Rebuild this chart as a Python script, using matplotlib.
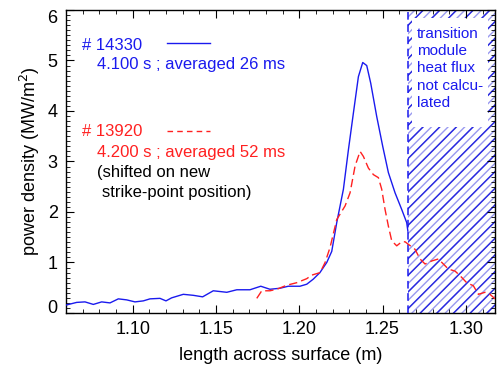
import matplotlib
matplotlib.use("Agg")
import matplotlib.pyplot as plt
from matplotlib.ticker import MultipleLocator
from matplotlib.patches import Rectangle

plt.rcParams['font.family'] = ['Liberation Sans', 'DejaVu Sans']
plt.rcParams['hatch.linewidth'] = 1.0

# Shot 14330 (blue, solid)
x_14330 = [1.0604, 1.0664, 1.0714, 1.0764, 1.0814, 1.0864, 1.0914, 1.0964, 1.1014, 1.1064,
           1.1104, 1.1164, 1.1200, 1.1234, 1.1304, 1.1364, 1.1420, 1.1484, 1.1565, 1.1625,
           1.1704, 1.1769, 1.1824, 1.1884, 1.1934, 1.2004, 1.2045, 1.2084, 1.2124, 1.2165,
           1.2195, 1.2225, 1.2265, 1.2295, 1.2325, 1.2355, 1.2381, 1.2405, 1.2429, 1.2465,
           1.2501, 1.2535, 1.2575, 1.2615, 1.2645, 1.2652]
y_14330 = [0.16, 0.21, 0.22, 0.17, 0.22, 0.20, 0.28, 0.26, 0.22, 0.24,
           0.28, 0.29, 0.24, 0.30, 0.37, 0.35, 0.32, 0.44, 0.41, 0.46,
           0.46, 0.53, 0.47, 0.49, 0.53, 0.53, 0.57, 0.67, 0.80, 1.00,
           1.22, 1.79, 2.45, 3.23, 3.96, 4.68, 4.96, 4.90, 4.55, 3.89,
           3.30, 2.78, 2.38, 2.05, 1.79, 1.62]

# Shot 13920 (red, dashed)
x_13920 = [1.1745, 1.1775, 1.1824, 1.1865, 1.1925, 1.1985, 1.2045, 1.2075, 1.2125, 1.2155,
           1.2185, 1.2225, 1.2275, 1.2305, 1.2335, 1.2365, 1.2385, 1.2415, 1.2445, 1.2475,
           1.2495, 1.2515, 1.2535, 1.2555, 1.2585, 1.2615, 1.2635, 1.2655, 1.2695, 1.2725,
           1.2755, 1.2795, 1.2835, 1.2865, 1.2895, 1.2935, 1.2965, 1.3005, 1.3045, 1.3075,
           1.3115, 1.3145, 1.3175]
y_13920 = [0.29, 0.44, 0.44, 0.47, 0.55, 0.60, 0.68, 0.75, 0.80, 1.00,
           1.30, 1.85, 2.12, 2.38, 2.91, 3.20, 3.10, 2.87, 2.74, 2.68,
           2.45, 2.05, 1.72, 1.43, 1.33, 1.41, 1.41, 1.36, 1.26, 1.07,
           0.97, 1.03, 1.07, 0.97, 0.87, 0.83, 0.74, 0.60, 0.54, 0.37,
           0.41, 0.37, 0.28]

x_cut = 1.265
xticks = [1.10, 1.15, 1.20, 1.25, 1.30]
xticklabels = ['1.10', '1.15', '1.20', '1.25', '1.30']
yticks = [0, 1, 2, 3, 4, 5, 6]
yticklabels = ['0', '1', '2', '3', '4', '5', '6']

BLUE = '#1a1aee'
RED = '#ff2020'

fig = plt.figure(figsize=(4.99, 3.74), dpi=100)
ax = fig.add_axes([0.1323, 0.1631, 0.8597, 0.8102])
ax.set_xlim(1.06, 1.3175)
ax.set_ylim(0, 6)

# hatched region (not calculated): light and dark alternating hatch lines
ax.axvspan(x_cut, 1.3175, facecolor='none', edgecolor='#9a9af0', hatch='////', linewidth=0, zorder=0)
ax.axvspan(x_cut, 1.3175, facecolor='none', edgecolor='#2a2ae0', hatch='//', linewidth=0, zorder=0.5)
ax.axvline(x_cut, color=BLUE, linestyle=(0, (5, 3)), linewidth=1.1, zorder=3)
ax.add_patch(Rectangle((0.8065, 0.615), 0.177, 0.3585, transform=ax.transAxes,
                       facecolor='white', edgecolor='none', zorder=1))
ax.text(0.818, 0.945, 'transition\nmodule\nheat flux\nnot calcu-\nlated', transform=ax.transAxes,
        color=BLUE, fontsize=11, va='top', ha='left', linespacing=1.3, zorder=2)

ax.plot(x_14330, y_14330, color=BLUE, linewidth=1.0, zorder=4)
ax.plot(x_13920, y_13920, color=RED, linewidth=1.0, linestyle=(0, (6, 3)), zorder=4)

# pseudo legend
ax.text(0.037, 0.882, '# 14330', transform=ax.transAxes, color=BLUE, fontsize=12, va='center')
ax.plot([0.235, 0.336], [0.891, 0.891], transform=ax.transAxes, color=BLUE, linewidth=1.0)
ax.text(0.072, 0.819, '4.100 s ; averaged 26 ms', transform=ax.transAxes, color=BLUE, fontsize=12, va='center')
ax.text(0.037, 0.599, '# 13920', transform=ax.transAxes, color=RED, fontsize=12, va='center')
ax.plot([0.235, 0.336], [0.602, 0.602], transform=ax.transAxes, color=RED, linewidth=1.0,
        linestyle=(0, (4, 3)))
ax.text(0.072, 0.530, '4.200 s ; averaged 52 ms', transform=ax.transAxes, color=RED, fontsize=12, va='center')
ax.text(0.072, 0.464, '(shifted on new', transform=ax.transAxes, color='black', fontsize=12, va='center')
ax.text(0.083, 0.398, 'strike-point position)', transform=ax.transAxes, color='black', fontsize=12, va='center')

ax.set_xticks(xticks)
ax.set_xticklabels(xticklabels)
ax.set_yticks(yticks)
ax.set_yticklabels(yticklabels)
ax.xaxis.set_minor_locator(MultipleLocator(0.01))
ax.yaxis.set_minor_locator(MultipleLocator(0.1))
ax.tick_params(which='both', direction='in', top=True, right=True, labelsize=13, pad=6)
ax.tick_params(which='major', length=6, width=0.8)
ax.tick_params(which='minor', length=3, width=0.6)
ylabs = ax.get_yticklabels()
ylabs[0].set_verticalalignment('baseline')
ylabs[-1].set_verticalalignment('top')
for s in ax.spines.values():
    s.set_linewidth(1.0)

ax.set_xlabel('length across surface (m)', fontsize=13, labelpad=6)
ax.set_ylabel('power density (MW/m$^2$)', fontsize=13, labelpad=4)

fig.savefig('out.png', dpi=100)
